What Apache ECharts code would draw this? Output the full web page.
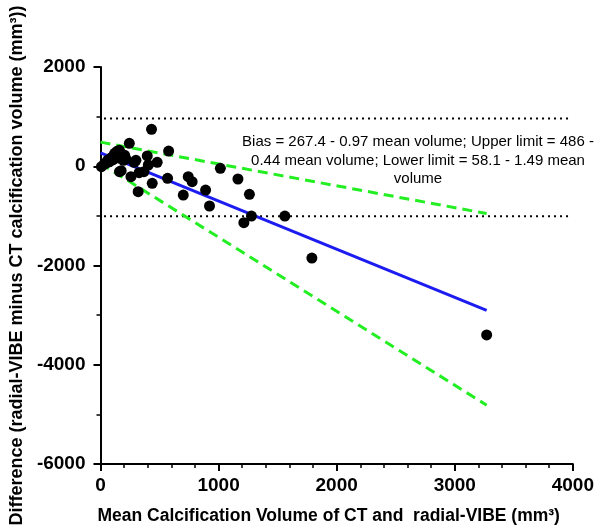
<!DOCTYPE html>
<html>
<head>
<meta charset="utf-8">
<script src="https://cdn.jsdelivr.net/npm/echarts@6/dist/echarts.min.js"></script>
<style>
html,body{margin:0;padding:0;background:#fff;}
#chart{width:597px;height:531px;}
</style>
</head>
<body>
<div id="chart"></div>
<script>
// ---- data ----
const meanVolume = [8, 30, 50, 60, 75, 85, 95, 105, 115, 120, 130, 140, 150, 160, 165, 175, 185, 195, 205, 215,
  161, 175, 244, 258, 285, 300, 327, 368, 396, 405, 438, 319, 480, 432, 577, 568,
  743, 776, 701, 890, 923, 1015, 1164, 1261, 1278, 1561, 1214, 1790, 3270];
const difference = [-8, 40, 70, 120, 90, 150, 180, 130, 200, 260, 230, 300, 210, 320, 160, 250, 190, 120, 220, 150,
  -110, -89, 463, -210, 80, 120, -130, -110, 207, 25, -345, -513, 80, 745, 307, -243,
  -210, -311, -580, -479, -801, -42, -257, -566, -1003, -1003, -1137, -1850, -3400];

const limitNames = ['Bias', 'Upper limit', 'Lower limit'];
const limitIntercepts = [267.4, 486, 58.1];
const limitSlopes = [-0.97, -0.44, -1.49];
const limitXRange = [0, 3270];
const sdLevels = [960, -1010];
const sdXRange = [30, 3980];

const xTicks = {min: 0, max: 4000, interval: 1000};
const yTicks = {min: -6000, max: 2000, interval: 2000};

const annotation = 'Bias = 267.4 - 0.97 mean volume; Upper limit = 486 -\n0.44 mean volume; Lower limit = 58.1 - 1.49 mean\nvolume';
const xTitle = 'Mean Calcification Volume of CT and  radial-VIBE (mm\u00B3)';
const yTitle = 'Difference (radial-VIBE minus CT calcification volume (mm\u00B3))';

// ---- chart ----
const chart = echarts.init(document.getElementById('chart'));
const points = meanVolume.map((x, i) => [x, difference[i]]);
const lineColors = ['#1c1cf0', '#22ee22', '#22ee22'];

const limitSeries = limitNames.map((name, i) => ({
  name: name,
  type: 'line',
  data: limitXRange.map(x => [x, limitIntercepts[i] + limitSlopes[i] * x]),
  symbol: 'none',
  silent: true,
  z: 3,
  lineStyle: {
    color: lineColors[i],
    width: 3,
    type: i === 0 ? 'solid' : [10, 6],
    cap: 'butt'
  }
}));

const sdSeries = sdLevels.map(level => ({
  type: 'line',
  data: sdXRange.map(x => [x, level]),
  symbol: 'none',
  silent: true,
  z: 2,
  lineStyle: {color: '#000', width: 2, type: [2, 4], cap: 'butt'}
}));

const axisFont = {fontFamily: 'Liberation Sans, Arial, sans-serif', fontWeight: 'bold', color: '#000'};
const plainNumber = v => String(v);

chart.setOption({
  animation: false,
  backgroundColor: '#fff',
  grid: {left: 94, right: 22, top: 67, bottom: 67, containLabel: false},
  xAxis: {
    type: 'value',
    min: xTicks.min, max: xTicks.max, interval: xTicks.interval,
    name: xTitle,
    nameLocation: 'middle',
    nameGap: 43,
    nameTextStyle: Object.assign({fontSize: 17.5, padding: [0, 16, 0, 0]}, axisFont),
    axisLine: {show: true, onZero: false, lineStyle: {color: '#000', width: 2}},
    axisTick: {show: true, length: 7, lineStyle: {color: '#000', width: 2}},
    minorTick: {show: true, splitNumber: 5, length: 4, lineStyle: {color: '#000', width: 1.5}},
    splitLine: {show: false},
    axisLabel: Object.assign({fontSize: 19, margin: 12, formatter: plainNumber}, axisFont)
  },
  yAxis: {
    type: 'value',
    min: yTicks.min, max: yTicks.max, interval: yTicks.interval,
    name: yTitle,
    nameLocation: 'middle',
    nameRotate: 90,
    nameGap: 64,
    nameTextStyle: Object.assign({fontSize: 18}, axisFont),
    axisLine: {show: true, onZero: false, lineStyle: {color: '#000', width: 2}},
    axisTick: {show: true, length: 7, lineStyle: {color: '#000', width: 2}},
    minorTick: {show: true, splitNumber: 2, length: 4, lineStyle: {color: '#000', width: 1.5}},
    splitLine: {show: false},
    axisLabel: Object.assign({fontSize: 19, margin: 15, formatter: plainNumber}, axisFont)
  },
  graphic: [{
    type: 'text',
    x: 418,
    y: 133,
    z: 10,
    style: {
      text: annotation,
      textAlign: 'center',
      textVerticalAlign: 'top',
      fontFamily: 'Liberation Sans, Arial, sans-serif',
      fontSize: 15,
      lineHeight: 18.5,
      fill: '#000'
    }
  }],
  series: sdSeries.concat(limitSeries).concat([{
    type: 'scatter',
    data: points,
    symbol: 'circle',
    symbolSize: 11,
    z: 5,
    itemStyle: {color: '#000', opacity: 1}
  }])
});
</script>
</body>
</html>
